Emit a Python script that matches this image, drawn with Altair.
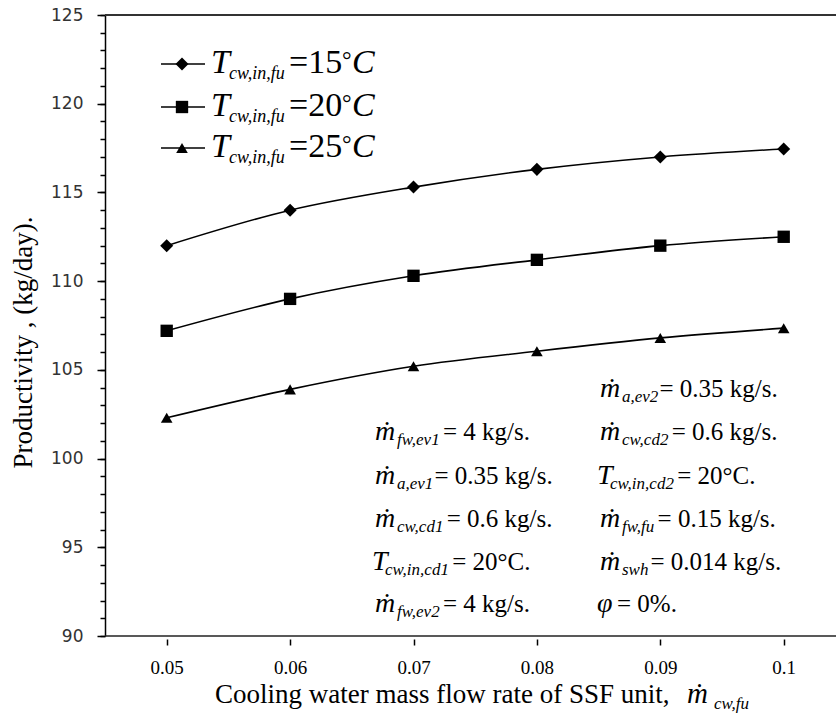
import altair as alt
import pandas as pd

# ---------------- data ----------------
x_vals = [0.05, 0.06, 0.07, 0.08, 0.09, 0.10]
series_names = ["15", "20", "25"]
prod_15 = [112.0, 114.0, 115.3, 116.3, 117.0, 117.45]
prod_20 = [107.2, 109.0, 110.3, 111.2, 112.0, 112.5]
prod_25 = [102.3, 103.9, 105.2, 106.05, 106.8, 107.35]
shapes = ["diamond", "square", "triangle-up"]
x_ticks = [0.05, 0.06, 0.07, 0.08, 0.09, 0.1]
y_major = [90, 95, 100, 105, 110, 115, 120, 125]
y_minor = list(range(90, 126))

y_title = "Productivity , (kg/day)."
x_title = "Cooling water mass flow rate of SSF unit,"
x_title_sym = "\u1e41"
x_title_sub = "cw,fu"

legend_sym = "T"
legend_sub = "cw,in,fu"

ann_sym = ["\u1e41", "\u1e41", "\u1e41", "T", "\u1e41",
           "\u1e41", "\u1e41", "T", "\u1e41", "\u1e41", "\u03c6"]
ann_sub = ["fw,ev1", "a,ev1", "cw,cd1", "cw,in,cd1", "fw,ev2",
           "a,ev2", "cw,cd2", "cw,in,cd2", "fw,fu", "swh", ""]
ann_rest = ["= 4 kg/s.", "= 0.35 kg/s.", "= 0.6 kg/s.", "= 20\u00b0C.", "= 4 kg/s.",
            "= 0.35 kg/s.", "= 0.6 kg/s.", "= 20\u00b0C.", "= 0.15 kg/s.", "= 0.014 kg/s.", "= 0%."]

# ---------------- layout ----------------
PAD_L, PAD_T = 105, 15
W, H = 731, 621
FONT = "Liberation Serif"

CW = {'a': .444, 'b': .5, 'c': .444, 'd': .5, 'e': .444, 'f': .278, 'g': .5, 'h': .5,
      'i': .278, 'k': .5, 'l': .278, 'm': .722, 'n': .5, 'o': .5, 'r': .333, 's': .389,
      't': .278, 'u': .5, 'v': .444, 'w': .667, 'y': .444, ',': .25, '.': .25, ' ': .25}


def tw(s, size):
    return sum(CW.get(ch, 0.5) for ch in s) * size


df = pd.DataFrame({
    "x": x_vals * 3,
    "prod": prod_15 + prod_20 + prod_25,
    "series": [s for s in series_names for _ in x_vals],
})

xscale = alt.Scale(domain=[0.045, 0.045 + W / 12340.0], nice=False, zero=False)
yscale = alt.Scale(domain=[90, 125], nice=False, zero=False)
shape_scale = alt.Scale(domain=series_names, range=shapes)
size_scale = alt.Scale(domain=series_names, range=[170, 135, 270])

x_axis = alt.Axis(values=x_ticks, format=".2~f", orient="bottom", offset=3, domain=False,
                  grid=False, tickSize=6, tickWidth=1.5, tickColor="black",
                  labelFont=FONT, labelFontSize=19, labelColor="black",
                  labelBaseline="alphabetic", labelPadding=28, labelFlush=False,
                  labelOverlap=False, title=None)

y_axis_major = alt.Axis(values=y_major, orient="left", tickSize=8, tickWidth=1.5,
                        tickColor="black", domain=True, domainColor="black", domainWidth=1.5,
                        labelFont="DejaVu Sans", labelFontSize=17, labelColor="#333",
                        labelPadding=14, grid=False, labelOverlap=False, labelFlush=False,
                        title=y_title, titleFont=FONT, titleFontSize=27,
                        titleFontWeight="normal", titleColor="black", titleX=-82,
                        titleY=327, titleAngle=270, titleAlign="center",
                        titleBaseline="middle")

y_axis_minor = alt.Axis(values=y_minor, orient="left", tickSize=5, tickWidth=1.5,
                        tickColor="black", domain=False, labels=False, grid=False,
                        title=None)

lines = alt.Chart(df).mark_line(interpolate="monotone", color="black", strokeWidth=1.6).encode(
    x=alt.X("x:Q", scale=xscale, axis=x_axis),
    y=alt.Y("prod:Q", scale=yscale, axis=y_axis_major),
    detail="series:N",
)

points = alt.Chart(df).mark_point(filled=True, color="black", opacity=1).encode(
    x=alt.X("x:Q", scale=xscale, axis=None),
    y=alt.Y("prod:Q", scale=yscale, axis=y_axis_minor),
    shape=alt.Shape("series:N", scale=shape_scale, legend=None),
    size=alt.Size("series:N", scale=size_scale, legend=None),
)

one = pd.DataFrame({"a": [0]})
frame_top = alt.Chart(one).mark_rule(color="#333", strokeWidth=2).encode(
    x=alt.value(0), x2=alt.value(W + 10), y=alt.value(0))
frame_bottom = alt.Chart(one).mark_rule(color="#222", strokeWidth=1.6).encode(
    x=alt.value(0), x2=alt.value(W + 10), y=alt.value(H))

# legend
leg_rows = [64 - PAD_T, 107 - PAD_T, 148 - PAD_T]
leg_df = pd.DataFrame({"series": series_names, "ly": leg_rows,
                       "x1": [161 - PAD_L] * 3, "x2": [205 - PAD_L] * 3,
                       "xm": [182 - PAD_L] * 3})
leg_rules = alt.Chart(leg_df).mark_rule(color="black", strokeWidth=1.6).encode(
    x=alt.X("x1:Q", scale=None, axis=None), x2="x2:Q",
    y=alt.Y("ly:Q", scale=None, axis=None))
leg_points = alt.Chart(leg_df).mark_point(filled=True, color="black", opacity=1).encode(
    x=alt.X("xm:Q", scale=None, axis=None),
    y=alt.Y("ly:Q", scale=None, axis=None),
    shape=alt.Shape("series:N", scale=shape_scale, legend=None),
    size=alt.Size("series:N", scale=size_scale, legend=None))

ital, upr = [], []
for name, ly in zip(series_names, leg_rows):
    ital.append({"x": 211 - PAD_L, "y": ly + 9, "t": legend_sym, "fs": 34})
    ital.append({"x": 229 - PAD_L, "y": ly + 15, "t": legend_sub, "fs": 18})
    upr.append({"x": 289 - PAD_L, "y": ly + 9, "t": "=" + name, "fs": 34})
    upr.append({"x": 342 - PAD_L, "y": ly + 4, "t": "\u00b0", "fs": 24})
    ital.append({"x": 352 - PAD_L, "y": ly + 9, "t": "C", "fs": 34})

# annotations
left_base = [440, 484, 527, 570, 612]
right_base = [397, 440, 484, 527, 570, 612]
positions = []
for b in left_base:
    positions.append((375, b))
for b in right_base:
    positions.append((600, b))
for sym, sub, rest, (px, py) in zip(ann_sym, ann_sub, ann_rest, positions):
    if sym == "T":
        px -= 3
        sub_dx = 13
    elif sym == "\u03c6":
        px -= 3
        sub_dx = 20
    else:
        sub_dx = 22
    ital.append({"x": px - PAD_L, "y": py - PAD_T, "t": sym, "fs": 28})
    sx = px + sub_dx
    if sub:
        ital.append({"x": sx - PAD_L, "y": py - PAD_T + 5, "t": sub, "fs": 17})
        rx = sx + tw(sub, 17) + 2
    else:
        rx = sx
    upr.append({"x": rx - PAD_L, "y": py - PAD_T, "t": rest, "fs": 25})

# x title
upr.append({"x": 215 - PAD_L, "y": 703 - PAD_T, "t": x_title, "fs": 27})
ital.append({"x": 687 - PAD_L, "y": 703 - PAD_T, "t": x_title_sym, "fs": 29})
ital.append({"x": 714 - PAD_L, "y": 709 - PAD_T, "t": x_title_sub, "fs": 17})


def text_layer(rows, style):
    return alt.Chart(pd.DataFrame(rows)).mark_text(
        align="left", baseline="alphabetic", font=FONT, fontStyle=style, color="black"
    ).encode(
        x=alt.X("x:Q", scale=None, axis=None),
        y=alt.Y("y:Q", scale=None, axis=None),
        text="t:N",
        size=alt.Size("fs:Q", scale=None, legend=None),
    )


chart = alt.layer(
    frame_top, frame_bottom, lines, points, leg_rules, leg_points,
    text_layer(ital, "italic"), text_layer(upr, "normal"),
).resolve_scale(x="independent", y="independent").resolve_axis(
    x="independent", y="independent"
).properties(
    width=W, height=H,
    autosize=alt.AutoSizeParams(type="none"),
    padding={"left": PAD_L, "top": PAD_T, "right": 0, "bottom": 719 - PAD_T - H},
    background="white",
).configure_view(stroke=None)

chart.save("out.html", embed_options={"renderer": "svg", "actions": False})
